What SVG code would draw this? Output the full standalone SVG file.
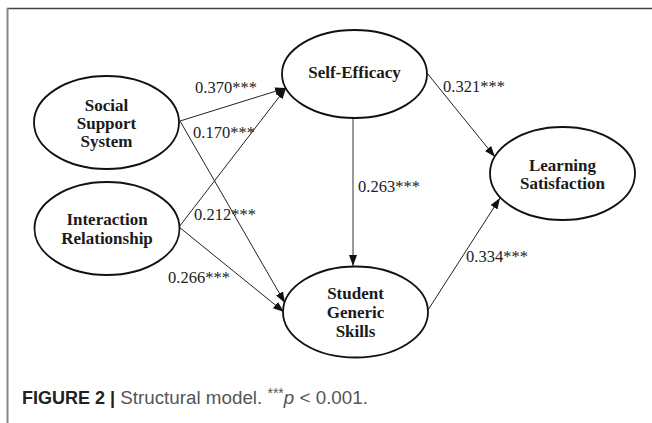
<svg xmlns="http://www.w3.org/2000/svg" width="652" height="423" viewBox="0 0 652 423">
<style>
.node ellipse{fill:#fff;stroke:#111;stroke-width:1.8}
.nt{font-weight:bold;font-size:17px;fill:#1a1a1a;text-anchor:middle}
.el{font-size:16.5px;fill:#222}
.edge{stroke:#222;stroke-width:1;fill:none;marker-end:url(#ah)}
.cap{font-size:18px}
</style>
<defs>
<marker id="ah" markerUnits="userSpaceOnUse" markerWidth="12" markerHeight="10" refX="11" refY="4" orient="auto">
<path d="M0,0 L11,4 L0,8 Z" fill="#111"/>
</marker>
</defs>
<rect width="652" height="423" fill="#fff"/>
<line x1="7" y1="8.5" x2="652" y2="8.5" stroke="#444" stroke-width="1.5"/>
<line x1="7.5" y1="8" x2="7.5" y2="423" stroke="#888" stroke-width="2"/>
<g id="connectors" font-family="'Liberation Serif', 'Times New Roman', Tinos, 'DejaVu Serif', serif">
<line class="edge" x1="180" y1="121" x2="286" y2="88"/>
<line class="edge" x1="180" y1="121" x2="285" y2="303"/>
<line class="edge" x1="179" y1="227" x2="286" y2="88"/>
<line class="edge" x1="179" y1="227" x2="284" y2="312"/>
<line class="edge" x1="353" y1="118" x2="353" y2="266" style="stroke:#777;stroke-width:1.5"/>
<line class="edge" x1="427" y1="73" x2="495" y2="157"/>
<line class="edge" x1="428" y1="310" x2="500" y2="198"/>
<text class="el" x="195" y="93">0.370***</text>
<text class="el" x="193" y="138">0.170***</text>
<text class="el" x="194" y="220">0.212***</text>
<text class="el" x="168" y="283">0.266***</text>
<text class="el" x="358" y="192">0.263***</text>
<text class="el" x="443" y="92">0.321***</text>
<text class="el" x="466" y="262">0.334***</text>
</g>
<g id="social" class="node" font-family="'Liberation Serif', 'Times New Roman', Tinos, 'DejaVu Serif', serif">
<ellipse cx="106.5" cy="122.5" rx="72.5" ry="46.5"/>
<text class="nt" x="106.5" y="110.5">Social</text>
<text class="nt" x="106.5" y="128.7">Support</text>
<text class="nt" x="106.5" y="147">System</text>
</g>
<g id="interaction" class="node" font-family="'Liberation Serif', 'Times New Roman', Tinos, 'DejaVu Serif', serif">
<ellipse cx="107" cy="228.5" rx="72.5" ry="46.5"/>
<text class="nt" x="107" y="225.3">Interaction</text>
<text class="nt" x="107" y="243.5">Relationship</text>
</g>
<g id="selfefficacy" class="node" font-family="'Liberation Serif', 'Times New Roman', Tinos, 'DejaVu Serif', serif">
<ellipse cx="354.5" cy="74" rx="72.5" ry="44"/>
<text class="nt" x="354.5" y="78">Self-Efficacy</text>
</g>
<g id="skills" class="node" font-family="'Liberation Serif', 'Times New Roman', Tinos, 'DejaVu Serif', serif">
<ellipse cx="355.5" cy="312" rx="72.5" ry="45.5"/>
<text class="nt" x="355.5" y="298.5">Student</text>
<text class="nt" x="355.5" y="317.5">Generic</text>
<text class="nt" x="355.5" y="336.5">Skills</text>
</g>
<g id="learning" class="node" font-family="'Liberation Serif', 'Times New Roman', Tinos, 'DejaVu Serif', serif">
<ellipse cx="562.5" cy="173.5" rx="72.5" ry="46.5"/>
<text class="nt" x="562.5" y="170.5">Learning</text>
<text class="nt" x="562.5" y="188.7">Satisfaction</text>
</g>
<text class="cap" x="22" y="403.5" font-family="'Liberation Sans', Arial, sans-serif"><tspan font-weight="bold" fill="#222">FIGURE 2 |</tspan><tspan fill="#555" font-size="18.8"> Structural model. <tspan font-size="14" dy="-6">***</tspan><tspan font-style="italic" dy="6">p</tspan> &lt; 0.001.</tspan></text>
</svg>
